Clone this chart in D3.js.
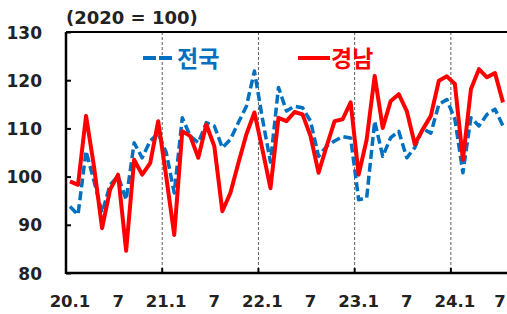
<!DOCTYPE html>
<html lang="ko">
<head>
<meta charset="UTF-8">
<script src="https://cdn.jsdelivr.net/npm/d3@7"></script>
<style>
  body { margin: 0; background: #fff; }
  text { font-family: "DejaVu Sans", "Noto Sans CJK KR", sans-serif; font-weight: bold; }
  .kr { font-family: "Noto Sans CJK KR", sans-serif; }
</style>
</head>
<body>
<svg id="chart" width="507" height="314"></svg>
<script>
// 2020.1 ~ 2024.7 monthly index (2020 = 100)
const months = d3.range(55).map(i => {
  const yr = 20 + Math.floor(i / 12), m = i % 12 + 1;
  return yr + "." + m;
});
const national = [93.8, 92.1, 105.3, 99, 92.5, 98.3, 100.1, 95.2, 107.0, 103.9, 107.4, 109.0,
  105, 96.6, 112.2, 108.4, 107.0, 111.2, 110.5, 106.0, 107.7, 111.2, 114.6, 121.9,
  112, 103, 118.5, 113.6, 114.6, 114.3, 111.5, 104.2, 106.3, 107.4, 108.3, 108.0,
  95.2, 95.6, 111.5, 104.2, 108.1, 109.4, 103.9, 106.0, 110, 109, 115.0, 116.0,
  111.9, 100.8, 112.2, 110.5, 112.9, 114.0, 110.5];
const gyeongnam = [99.0, 98.3, 112.6, 102, 89.3, 97.3, 100.4, 84.6, 103.5, 100.4, 102.8, 111.5,
  100, 87.9, 109.4, 108.4, 103.9, 110.8, 106.3, 92.8, 96.6, 102.8, 108.8, 113.3,
  105.6, 97.6, 112.2, 111.5, 113.4, 112.9, 108.4, 100.8, 106.3, 111.5, 111.9, 115.4,
  100.4, 107.7, 120.9, 110.1, 115.7, 117.1, 113.6, 106.7, 109.8, 112.6, 119.9, 120.8,
  119.2, 103.5, 118.1, 122.3, 120.6, 121.5, 115.4];
const tickLabels = ["20.1", "7", "21.1", "7", "22.1", "7", "23.1", "7", "24.1", "7"];
const yTicks = [80, 90, 100, 110, 120, 130];

const svg = d3.select("#chart");
const mLeft = 66, mRight = 507, mTop = 32, mBottom = 273;

const x = d3.scaleBand().domain(months).range([mLeft, mRight]);
const y = d3.scaleLinear().domain([80, 130]).range([mBottom, mTop]);
const cx = d => x(d) + x.bandwidth() / 2;

// year gridlines (dashed)
const yearStarts = months.filter((m, i) => i % 12 === 0 && i > 0);
svg.append("g").selectAll("line").data(yearStarts).join("line")
  .attr("x1", d => x(d)).attr("x2", d => x(d))
  .attr("y1", mTop).attr("y2", mBottom)
  .attr("stroke", "#333").attr("stroke-width", 0.8)
  .attr("stroke-dasharray", "3,2");

// x ticks at year boundaries
svg.append("g").selectAll("line").data(yearStarts).join("line")
  .attr("x1", d => x(d)).attr("x2", d => x(d))
  .attr("y1", mBottom).attr("y2", mBottom - 5)
  .attr("stroke", "#000").attr("stroke-width", 2);

// y axis
svg.append("g")
  .attr("transform", `translate(${mLeft},0)`)
  .call(d3.axisRight(y).tickValues(yTicks).tickSize(5).tickFormat(""))
  .call(g => g.select(".domain").remove())
  .call(g => g.selectAll("line").attr("stroke", "#000").attr("stroke-width", 2));
svg.append("g").selectAll("text").data(yTicks).join("text")
  .attr("x", 42).attr("y", d => y(d) + 6.5)
  .attr("text-anchor", "end").attr("font-size", 17).attr("fill", "#222")
  .text(d => d);

// frame
svg.append("line").attr("x1", mLeft).attr("x2", mLeft).attr("y1", mTop).attr("y2", mBottom + 1)
  .attr("stroke", "#000").attr("stroke-width", 2.5);
svg.append("line").attr("x1", mLeft).attr("x2", mRight).attr("y1", mBottom).attr("y2", mBottom)
  .attr("stroke", "#000").attr("stroke-width", 2.5);
svg.append("line").attr("x1", mLeft).attr("x2", mRight).attr("y1", mTop).attr("y2", mTop)
  .attr("stroke", "#000").attr("stroke-width", 2);

// x labels (last one nudged so it stays inside the frame)
const labelMonths = months.filter((m, i) => i % 6 === 0);
svg.append("g").selectAll("text").data(labelMonths).join("text")
  .attr("x", d => Math.min(cx(d), 500)).attr("y", 307)
  .attr("text-anchor", "middle").attr("font-size", 16.5).attr("fill", "#222")
  .text((d, i) => tickLabels[i]);

// lines
const line = vals => d3.line().x((d, i) => cx(months[i])).y(d => y(d))(vals);
svg.append("path").attr("d", line(national))
  .attr("fill", "none").attr("stroke", "#0070C0").attr("stroke-width", 3.5)
  .attr("stroke-dasharray", "9,4").attr("stroke-linejoin", "round");
svg.append("path").attr("d", line(gyeongnam))
  .attr("fill", "none").attr("stroke", "#FF0000").attr("stroke-width", 4)
  .attr("stroke-linejoin", "round");

// title
svg.append("text").attr("x", 66).attr("y", 24).attr("font-size", 18).attr("fill", "#222")
  .text("(2020 = 100)");

// legend
svg.append("line").attr("x1", 143).attr("x2", 173).attr("y1", 58).attr("y2", 58)
  .attr("stroke", "#0070C0").attr("stroke-width", 4).attr("stroke-dasharray", "13,3");
svg.append("text").attr("class", "kr").attr("x", 177).attr("y", 67).attr("font-size", 23).attr("fill", "#0070C0")
  .text("전국");
svg.append("line").attr("x1", 298).attr("x2", 330).attr("y1", 58).attr("y2", 58)
  .attr("stroke", "#FF0000").attr("stroke-width", 4);
svg.append("text").attr("class", "kr").attr("x", 331).attr("y", 67).attr("font-size", 23).attr("fill", "#FF0000")
  .text("경남");
</script>
</body>
</html>
